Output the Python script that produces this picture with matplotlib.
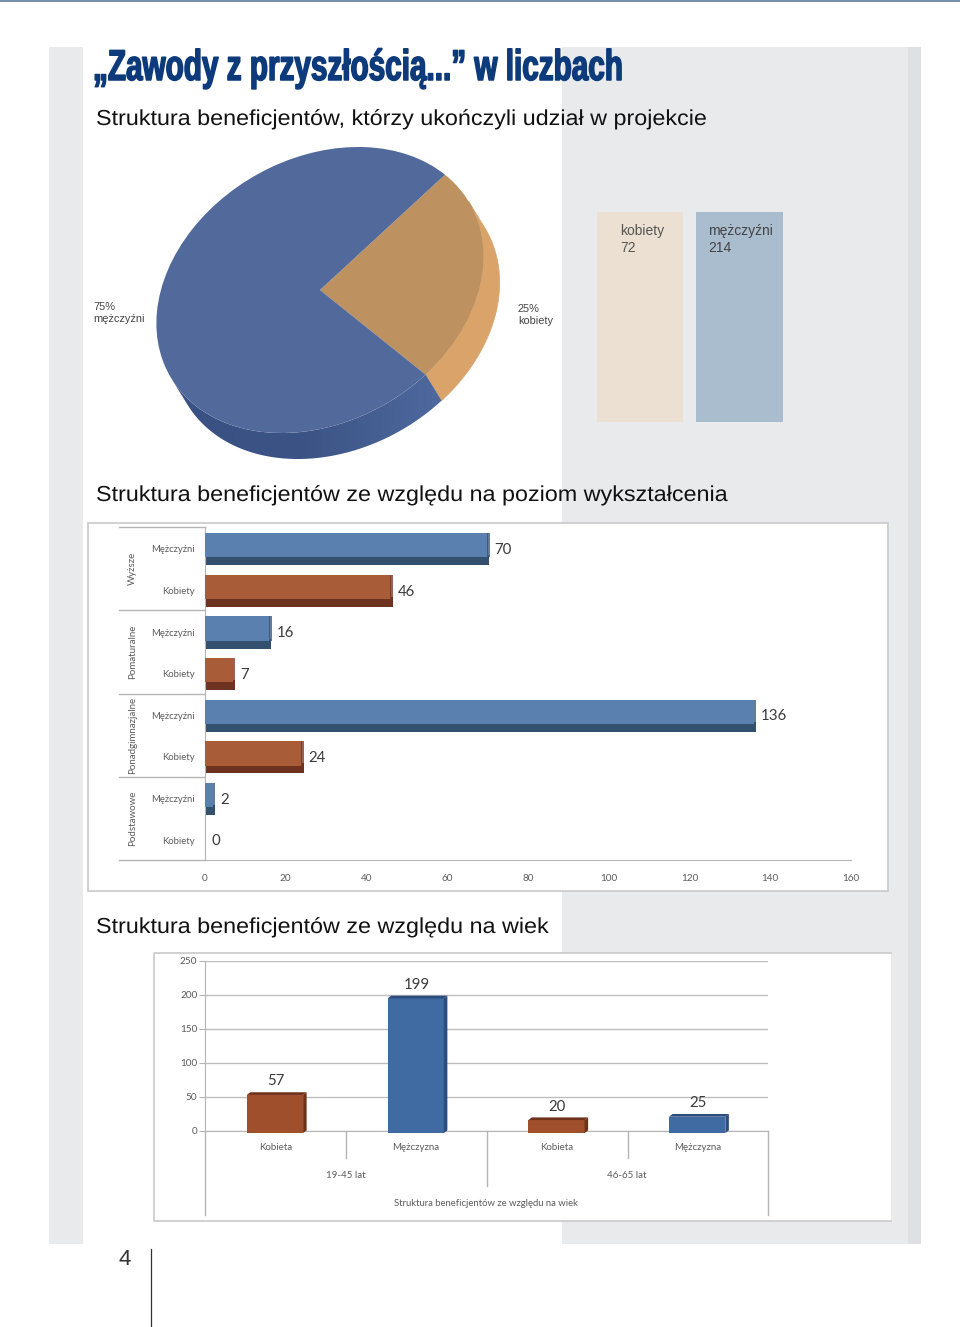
import numpy as np
import matplotlib
matplotlib.use('Agg')
import matplotlib.pyplot as plt
from matplotlib.patches import Rectangle, Wedge, Polygon
from matplotlib.patheffects import AbstractPathEffect
from matplotlib.transforms import Affine2D

W, H = 960, 1327

# pie
pie_labels = ['kobiety', 'mężczyźni']
pie_share = [25, 75]
pie_counts = [72, 214]

# education chart, top to bottom
edu_groups = ['Wyższe', 'Pomaturalne', 'Ponadgimnazjalne', 'Podstawowe']
edu_rows = ['Mężczyźni', 'Kobiety']
edu_men = [70, 16, 136, 2]
edu_women = [46, 7, 24, 0]
edu_ticks = [0, 20, 40, 60, 80, 100, 120, 140, 160]

# age chart
age_cats = ['Kobieta', 'Mężczyzna', 'Kobieta', 'Mężczyzna']
age_vals = [57, 199, 20, 25]
age_groups = ['19-45 lat', '46-65 lat']
age_ticks = [0, 50, 100, 150, 200, 250]
age_title = 'Struktura beneficjentów ze względu na wiek'

NAVY = '#0d3a7a'
GRAY = '#e9eaec'
STRIPE = '#dfe0e4'
BLUE, BLUE_D = '#5a80b0', '#33506f'
RUST, RUST_D = '#a85c38', '#6e3220'
COL_BLUE, COL_BLUE_D = '#3f6aa2', '#2c4c7c'
COL_RUST, COL_RUST_D = '#a04f2d', '#70311b'
TICK = '#5c5c5c'
LINE = '#b5b5b5'
LABEL_FONT = ['Lato', 'DejaVu Sans']
HEAD_FONT = ['Liberation Sans', 'DejaVu Sans']


class Stretch(AbstractPathEffect):
    # no condensed or extended faces installed, so scale the glyphs sideways
    def __init__(self, x0, sx, stroke=0):
        self.x0, self.sx, self.stroke = x0, sx, stroke

    def draw_path(self, renderer, gc, tpath, affine, rgbFace=None):
        squeezed = affine + Affine2D().translate(-self.x0, 0).scale(self.sx, 1).translate(self.x0, 0)
        gc0 = renderer.new_gc()
        gc0.copy_properties(gc)
        if self.stroke:
            gc0.set_linewidth(self.stroke)
            gc0.set_foreground(rgbFace)
        renderer.draw_path(gc0, tpath, squeezed, rgbFace)
        gc0.restore()


def axes_px(fig, x0, y0, x1, y1):
    # axes placed in page pixels, y measured from the top
    return fig.add_axes([x0 / W, 1 - y1 / H, (x1 - x0) / W, (y1 - y0) / H])


fig = plt.figure(figsize=(W / 100, H / 100), dpi=100, facecolor='white')
page = fig.add_axes([0, 0, 1, 1])
page.set_xlim(0, W)
page.set_ylim(H, 0)
page.axis('off')

# page background
page.add_patch(Rectangle((49, 47), 872, 1197, fc=GRAY, ec='none', zorder=0))
page.add_patch(Rectangle((83, 47), 479, 1197, fc='white', ec='none', zorder=0))
page.add_patch(Rectangle((908, 47), 13, 1197, fc=STRIPE, ec='none', zorder=0))
page.plot([0, W], [0.5, 0.5], color='#5b7c9e', lw=1.2, zorder=1)
page.plot([151, 151], [1249, 1327], color='#333333', lw=0.9)
page.text(124.5, 1259.5, '4', family='Liberation Sans', fontsize=16, color='#333333',
          ha='center', va='center')

# headings
page.text(93, 80, '„Zawody z przyszłością...” w liczbach', family='Liberation Sans',
          fontsize=31, weight='bold', color=NAVY, va='baseline',
          path_effects=[Stretch(93, 0.69, 1.1)])
for y, s in [(125, 'Struktura beneficjentów, którzy ukończyli udział w projekcie'),
             (501, 'Struktura beneficjentów ze względu na poziom wykształcenia'),
             (933, 'Struktura beneficjentów ze względu na wiek')]:
    page.text(96, y, s, family=HEAD_FONT, fontsize=15.6, color='#111111', va='baseline',
              path_effects=[Stretch(96, 1.077)])

# tilted pie, built on a unit circle
cx, cy, a, b, tilt = 320, 290, 173, 131.5, -30
dx, dy = 16, 26
start = -16.5
sweep = 360 * pie_share[0] / sum(pie_share)
to_page = Affine2D().scale(a, b).rotate_deg(tilt).translate(cx, cy)


def side_poly(t0, t1, color):
    t = np.radians(np.linspace(t0, t1, 80))
    top = to_page.transform(np.c_[np.cos(t), np.sin(t)])
    return Polygon(np.r_[top, top[::-1] + [dx, dy]], closed=True, fc=color, ec=color, lw=0.5, zorder=2)


split = start + sweep
page.add_patch(side_poly(-1, split, '#d9a36a'))
im = page.imshow(np.linspace(0, 1, 256).reshape(1, -1), extent=(170, 445, 465, 340),
                 cmap=matplotlib.colors.LinearSegmentedColormap.from_list('side', ['#3a5283', '#3c5485', '#4f6aa0']),
                 aspect='auto', zorder=2)
blue_side = side_poly(split, 179, 'none')
page.add_patch(blue_side)
im.set_clip_path(blue_side)
page.set_xlim(0, W)
page.set_ylim(H, 0)
page.add_patch(Wedge((0, 0), 1, start, split, fc='#bd9260', ec='none', zorder=3,
                     transform=to_page + page.transData))
page.add_patch(Wedge((0, 0), 1, split, start + 360, fc='#52699b', ec='none', zorder=3,
                     transform=to_page + page.transData))

page.text(93.5, 312.5, '%d%%\n%s' % (pie_share[1], pie_labels[1]), family=HEAD_FONT, fontsize=7.9, color='#444444',
          va='center', linespacing=1.25)
page.text(518, 314.5, '%d%%\n%s' % (pie_share[0], pie_labels[0]), family=HEAD_FONT, fontsize=7.9, color='#444444',
          va='center', linespacing=1.25)

# count boxes
page.add_patch(Rectangle((597, 212), 86, 210, fc='#ece0d3', ec='none', zorder=1))
page.add_patch(Rectangle((696, 212), 87, 210, fc='#a9bdce', ec='none', zorder=1))
page.text(620.5, 239.5, '%s\n%d' % (pie_labels[0], pie_counts[0]), family=HEAD_FONT, fontsize=10, color='#555555',
          va='center', linespacing=1.2)
page.text(708.5, 239.5, '%s\n%d' % (pie_labels[1], pie_counts[1]), family=HEAD_FONT, fontsize=10, color='#444444',
          va='center', linespacing=1.2)

# chart frames
page.add_patch(Rectangle((88, 523), 800, 367.5, fc='white', ec='#c9c9c9', lw=1.2, zorder=1))
page.add_patch(Rectangle((153.5, 952.5), 737, 268, fc='white', ec='none', zorder=1))
page.plot([890.5, 153.5, 153.5, 890.5], [952.5, 952.5, 1220.5, 1220.5], color='#c9c9c9', lw=1.2, zorder=1)

# education bars, one row unit is one category slot
ax = axes_px(fig, 205, 527, 851, 860)
ax.set_xlim(0, 160)
ax.set_ylim(8, 0)
ax.patch.set_alpha(0)
for s in ['top', 'right']:
    ax.spines[s].set_visible(False)
ax.spines['left'].set_color(LINE)
ax.spines['bottom'].set_color(LINE)
ax.set_yticks([])
ax.set_xticks(edu_ticks)
ax.tick_params(axis='x', length=0, pad=10, labelsize=7.2, labelcolor=TICK)
for t in ax.get_xticklabels():
    t.set_family(LABEL_FONT)

vals = [v for pair in zip(edu_men, edu_women) for v in pair]
for i, v in enumerate(vals):
    face, dark = (BLUE, BLUE_D) if i % 2 == 0 else (RUST, RUST_D)
    y = i + 0.5
    if v > 0:
        ax.barh(y + 0.30, v + 0.25, height=0.24, left=0.2, color=dark, zorder=2)
        ax.barh(y - 0.06, v, height=0.58, color=face, zorder=3)
        ax.barh(y - 0.06, 0.6, left=v - 0.1, height=0.58, color=dark, alpha=0.75, zorder=3)
    ax.text(v + 1.7, y + 0.05, str(v), family=LABEL_FONT, fontsize=10.8, color='#3a3a3a',
            va='center', ha='left', zorder=4)

# education row labels and group labels on the page
slot = (860 - 527) / 8
for i in range(8):
    page.text(195, 529 + slot * (i + 0.5), edu_rows[i % 2], family=LABEL_FONT, fontsize=6.8, color=TICK,
              ha='right', va='center')
for i, g in enumerate(edu_groups):
    page.text(132.5, 527 + slot * (2 * i + 1), g, family=LABEL_FONT, fontsize=7.05, color=TICK,
              rotation=90, ha='center', va='center')
    page.plot([119, 205], [527 + slot * 2 * i] * 2, color=LINE, lw=1, zorder=2)
page.plot([119, 205], [860, 860], color=LINE, lw=1, zorder=2)

# age columns
ax2 = axes_px(fig, 205, 961, 768, 1131)
ax2.set_xlim(0, 4)
ax2.set_ylim(0, 250)
ax2.patch.set_alpha(0)
for s in ['top', 'right']:
    ax2.spines[s].set_visible(False)
ax2.spines['left'].set_color(LINE)
ax2.spines['bottom'].set_color(LINE)
ax2.set_axisbelow(True)
ax2.grid(axis='y', color='#bdbdbd', lw=1)
ax2.set_xticks([])
ax2.set_yticks(age_ticks)
ax2.tick_params(axis='y', length=4, color=LINE, pad=1.5, labelsize=7.2, labelcolor=TICK)
for t in ax2.get_yticklabels():
    t.set_family(LABEL_FONT)
    t.set_va('center_baseline')

xs = np.arange(4) + 0.497
bw = 0.40
cap_x, cap_y = 0.025, 4
foot = -3
for i, (x, v) in enumerate(zip(xs, age_vals)):
    face, dark = (COL_RUST, COL_RUST_D) if i % 2 == 0 else (COL_BLUE, COL_BLUE_D)
    l, r = x - bw / 2, x + bw / 2
    top = v - cap_y
    ax2.add_patch(Rectangle((l, foot), bw, top - foot, fc=face, ec='none', zorder=3, clip_on=False))
    ax2.add_patch(Polygon([(l, top), (l + cap_x, v), (r + cap_x, v), (r, top)], fc=dark, ec='none', zorder=3))
    ax2.add_patch(Polygon([(r, foot), (r + cap_x, foot + cap_y), (r + cap_x, v), (r, top)], fc=dark, ec='none',
                          zorder=3, clip_on=False))
    ax2.text(x + 0.005, v + 16, str(v), family=LABEL_FONT, fontsize=10.8, color='#3a3a3a', ha='center', va='center',
             zorder=4)
    page.text(205 + 140.75 * (i + 0.5), 1147.5, age_cats[i], family=LABEL_FONT, fontsize=7, color=TICK,
              ha='center', va='center')

for x, y1 in [(205, 1215), (345.5, 1158), (486.5, 1186), (627.5, 1158), (768, 1215)]:
    page.plot([x, x], [1131, y1], color=LINE, lw=1, zorder=2)
page.text(346, 1175, age_groups[0], family=LABEL_FONT, fontsize=7, color=TICK, ha='center', va='center')
page.text(627, 1175, age_groups[1], family=LABEL_FONT, fontsize=7, color=TICK, ha='center', va='center')
page.text(486, 1203, age_title, family=LABEL_FONT, fontsize=6.8, color=TICK, ha='center', va='center')

fig.savefig('out.png', dpi=100)
